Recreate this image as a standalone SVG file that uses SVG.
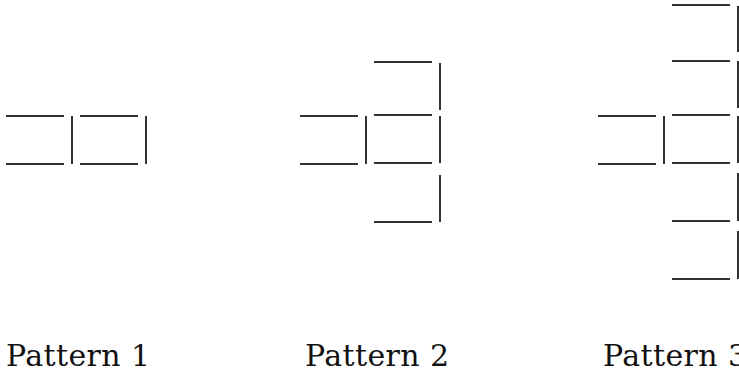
<svg xmlns="http://www.w3.org/2000/svg" width="739" height="376" viewBox="0 0 739 376">
<style>
.s{stroke:#333;stroke-width:2;fill:none}
.lbl{font-family:"DejaVu Serif",serif;font-size:30px;letter-spacing:0.4px;fill:#111}
</style>
<rect width="739" height="376" fill="#fff"/>
<g id="pattern1" class="s">
<path d="M6 116H64M6 164H64M72 116V164M80 116H138M80 164H138M146 116V164"/>
</g>
<g id="pattern2" class="s">
<path d="M300 116H358M300 164H358M366 116V164"/>
<path d="M374 62H432M440 63V110M374 115H432M440 116V163M374 163H432M440 175V222M374 222H432"/>
</g>
<g id="pattern3" class="s">
<path d="M598 116H656M598 164H656M664 116V164"/>
<path d="M672 5H730M738 6V52M672 61H730M738 61V108M672 115H730M738 116V163M672 163H730M738 173V221M672 221H730M738 231V279M672 279H730"/>
</g>
<g id="labels">
<text class="lbl" x="6" y="366">Pattern 1</text>
<text class="lbl" x="305" y="366">Pattern 2</text>
<text class="lbl" x="603" y="366">Pattern 3</text>
</g>
</svg>
